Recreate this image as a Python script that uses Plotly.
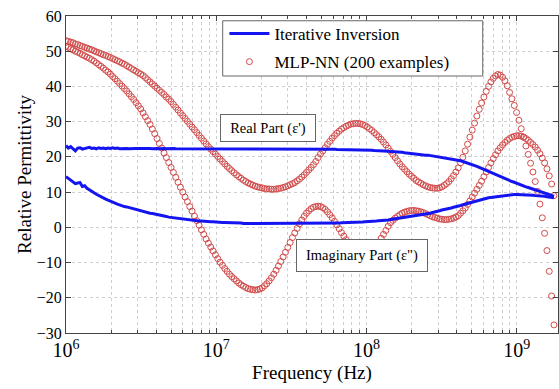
import numpy as np
import plotly.graph_objects as go

# Frequency sampling grid (log-uniform, 1 MHz .. 1.77 GHz)
freq = np.logspace(6, np.log10(1.77e9), 210)

mlp_real = [
    53.0, 52.8, 52.6, 52.4, 52.1, 51.9, 51.6, 51.4, 51.1, 50.9,
    50.6, 50.4, 50.1, 49.8, 49.6, 49.3, 49.0, 48.8, 48.5, 48.2,
    47.9, 47.6, 47.3, 47.0, 46.6, 46.3, 45.9, 45.5, 45.1, 44.7,
    44.3, 43.9, 43.5, 43.1, 42.5, 41.9, 41.3, 40.7, 40.1, 39.5,
    38.9, 38.3, 37.7, 37.0, 36.4, 35.7, 34.9, 34.1, 33.3, 32.5,
    31.7, 30.9, 30.1, 29.3, 28.5, 27.7, 26.9, 26.1, 25.3, 24.5,
    23.7, 22.9, 22.2, 21.5, 20.8, 20.1, 19.4, 18.7, 18.0, 17.3,
    16.7, 16.1, 15.5, 14.9, 14.4, 13.9, 13.4, 13.0, 12.6, 12.3,
    12.0, 11.7, 11.5, 11.3, 11.2, 11.0, 10.9, 10.9, 10.8, 10.8,
    10.9, 11.0, 11.1, 11.3, 11.5, 11.8, 12.1, 12.4, 12.7, 13.2,
    13.7, 14.3, 14.9, 15.6, 16.3, 17.0, 17.8, 18.7, 19.8, 20.8,
    21.7, 22.6, 23.6, 24.4, 25.3, 26.0, 26.7, 27.3, 27.9, 28.3,
    28.7, 29.0, 29.3, 29.4, 29.5, 29.5, 29.4, 29.2, 28.9, 28.5,
    28.0, 27.5, 26.9, 26.3, 25.7, 25.0, 24.2, 23.4, 22.5, 21.6,
    20.7, 19.8, 18.9, 18.0, 17.2, 16.5, 15.8, 15.1, 14.5, 13.9,
    13.3, 12.9, 12.5, 12.1, 11.8, 11.5, 11.3, 11.2, 11.1, 11.1,
    11.2, 11.5, 11.9, 12.4, 13.0, 13.8, 14.7, 15.7, 16.9, 18.3,
    19.9, 21.7, 23.6, 25.6, 27.6, 29.6, 31.6, 33.5, 35.3, 37.0,
    38.6, 40.0, 41.3, 42.3, 43.0, 43.4, 43.2, 42.6, 41.6, 40.2,
    38.3, 36.5, 34.6, 32.6, 30.4, 28.0, 25.6, 23.1, 20.7, 18.2,
    15.7, 13.0, 10.2, 6.6, 2.7, -1.7, -6.6, -12.5, -19.5, -27.7,
]

mlp_imag = [
    51.4, 51.1, 50.7, 50.4, 50.0, 49.7, 49.4, 49.0, 48.7, 48.3,
    48.0, 47.6, 47.2, 46.7, 46.2, 45.7, 45.2, 44.6, 44.1, 43.5,
    42.8, 42.2, 41.5, 40.8, 40.1, 39.4, 38.7, 37.9, 37.1, 36.3,
    35.4, 34.5, 33.6, 32.5, 31.4, 30.3, 29.2, 27.9, 26.6, 25.2,
    23.8, 22.5, 21.1, 19.8, 18.4, 17.0, 15.6, 14.2, 12.8, 11.4,
    10.0, 8.6, 7.3, 5.9, 4.6, 3.2, 1.9, 0.6, -0.7, -2.0,
    -3.3, -4.5, -5.6, -6.7, -7.8, -8.9, -9.9, -10.8, -11.7, -12.5,
    -13.3, -14.0, -14.6, -15.2, -15.8, -16.3, -16.7, -17.1, -17.4, -17.6,
    -17.7, -17.8, -17.7, -17.5, -17.2, -16.6, -16.0, -15.2, -14.3, -13.3,
    -12.2, -11.0, -9.7, -8.4, -7.1, -5.7, -4.3, -2.9, -1.6, -0.3,
    1.0, 2.1, 3.1, 4.0, 4.7, 5.3, 5.7, 5.9, 6.0, 5.9,
    5.6, 5.1, 4.4, 3.6, 2.7, 1.7, 0.7, -0.4, -1.5, -2.5,
    -3.5, -4.4, -5.3, -6.0, -6.6, -7.1, -7.4, -7.6, -7.6, -7.4,
    -7.0, -6.6, -5.9, -5.2, -4.2, -3.1, -2.0, -0.9, 0.3, 1.3,
    2.0, 2.6, 3.1, 3.6, 4.0, 4.3, 4.5, 4.7, 4.8, 4.8,
    4.7, 4.6, 4.4, 4.2, 3.9, 3.6, 3.3, 3.0, 2.8, 2.6,
    2.4, 2.3, 2.2, 2.2, 2.3, 2.4, 2.6, 2.9, 3.3, 4.0,
    4.7, 5.5, 6.5, 7.5, 8.6, 9.7, 10.8, 11.9, 13.1, 14.4,
    15.7, 17.0, 18.3, 19.5, 20.6, 21.7, 22.6, 23.4, 24.1, 24.7,
    25.2, 25.6, 25.8, 26.0, 26.0, 25.9, 25.6, 25.2, 24.7, 24.1,
    23.5, 22.8, 21.9, 20.9, 19.7, 18.3, 16.6, 14.6, 12.3, 9.0,
]

iter_real = [
    23.2, 22.5, 22.9, 22.2, 21.7, 22.5, 22.6, 22.2, 22.4, 22.6,
    22.7, 22.4, 22.5, 22.3, 22.6, 22.4, 22.5, 22.3, 22.5, 22.4,
    22.6, 22.4, 22.5, 22.3, 22.4, 22.5, 22.4, 22.3, 22.4, 22.5,
    22.4, 22.4, 22.3, 22.4, 22.4, 22.5, 22.4, 22.3, 22.4, 22.4,
    22.3, 22.4, 22.4, 22.3, 22.4, 22.3, 22.4, 22.3, 22.3, 22.4,
    22.3, 22.3, 22.4, 22.3, 22.3, 22.3, 22.4, 22.3, 22.3, 22.3,
    22.3, 22.3, 22.3, 22.3, 22.3, 22.3, 22.3, 22.3, 22.3, 22.3,
    22.3, 22.3, 22.3, 22.3, 22.3, 22.3, 22.3, 22.3, 22.3, 22.3,
    22.3, 22.3, 22.3, 22.3, 22.3, 22.3, 22.3, 22.3, 22.3, 22.3,
    22.3, 22.3, 22.3, 22.3, 22.3, 22.3, 22.3, 22.3, 22.3, 22.3,
    22.3, 22.3, 22.3, 22.3, 22.3, 22.3, 22.3, 22.3, 22.2, 22.2,
    22.2, 22.2, 22.2, 22.2, 22.2, 22.2, 22.1, 22.1, 22.1, 22.1,
    22.1, 22.1, 22.1, 22.1, 22.0, 22.0, 22.0, 22.0, 21.9, 21.9,
    21.9, 21.9, 21.8, 21.8, 21.8, 21.7, 21.7, 21.6, 21.6, 21.5,
    21.5, 21.4, 21.4, 21.3, 21.3, 21.2, 21.1, 21.1, 21.0, 20.9,
    20.8, 20.8, 20.7, 20.6, 20.5, 20.5, 20.4, 20.3, 20.2, 20.1,
    20.0, 19.9, 19.8, 19.7, 19.6, 19.5, 19.3, 19.2, 19.0, 18.9,
    18.7, 18.5, 18.3, 18.0, 17.8, 17.5, 17.3, 17.0, 16.7, 16.5,
    16.2, 15.9, 15.6, 15.3, 15.0, 14.8, 14.5, 14.2, 13.9, 13.6,
    13.3, 13.0, 12.8, 12.5, 12.2, 12.0, 11.7, 11.5, 11.3, 11.1,
    10.9, 10.7, 10.5, 10.3, 10.1, 9.9, 9.6, 9.4, 9.1, 8.8,
]

iter_imag = [
    14.4, 13.9, 13.4, 12.9, 12.4, 12.6, 12.7, 11.6, 11.8, 11.1,
    10.6, 10.2, 9.8, 9.4, 9.0, 8.6, 8.2, 8.0, 7.7, 7.5,
    7.2, 6.9, 6.6, 6.3, 6.1, 5.9, 5.8, 5.6, 5.4, 5.2,
    5.0, 4.8, 4.6, 4.5, 4.3, 4.2, 4.0, 3.9, 3.8, 3.6,
    3.5, 3.4, 3.2, 3.1, 2.9, 2.8, 2.7, 2.6, 2.5, 2.4,
    2.3, 2.2, 2.1, 2.1, 2.0, 1.9, 1.9, 1.8, 1.8, 1.7,
    1.7, 1.6, 1.6, 1.6, 1.5, 1.5, 1.5, 1.4, 1.4, 1.4,
    1.3, 1.3, 1.3, 1.2, 1.2, 1.2, 1.1, 1.1, 1.1, 1.1,
    1.0, 1.0, 1.0, 1.0, 1.0, 1.0, 1.0, 1.0, 1.0, 1.0,
    1.0, 1.0, 1.0, 1.0, 1.0, 1.0, 1.0, 1.0, 1.0, 1.0,
    1.0, 1.0, 1.0, 1.0, 1.0, 1.0, 1.1, 1.1, 1.1, 1.1,
    1.1, 1.1, 1.1, 1.2, 1.2, 1.2, 1.2, 1.2, 1.3, 1.3,
    1.3, 1.3, 1.4, 1.4, 1.4, 1.5, 1.5, 1.5, 1.6, 1.6,
    1.7, 1.7, 1.8, 1.8, 1.9, 1.9, 2.0, 2.1, 2.1, 2.2,
    2.3, 2.4, 2.5, 2.5, 2.6, 2.7, 2.8, 2.9, 3.0, 3.1,
    3.2, 3.4, 3.5, 3.6, 3.7, 3.9, 4.0, 4.2, 4.3, 4.5,
    4.7, 4.9, 5.0, 5.2, 5.3, 5.5, 5.7, 5.8, 6.0, 6.2,
    6.4, 6.6, 6.8, 7.0, 7.2, 7.4, 7.6, 7.8, 8.0, 8.1,
    8.3, 8.4, 8.5, 8.6, 8.7, 8.8, 8.9, 9.0, 9.1, 9.1,
    9.2, 9.2, 9.3, 9.3, 9.3, 9.3, 9.3, 9.2, 9.2, 9.1,
    9.1, 9.0, 9.0, 8.9, 8.9, 8.8, 8.7, 8.6, 8.5, 8.4,
]

for arr in (mlp_real, mlp_imag, iter_real, iter_imag):
    assert len(arr) == len(freq), len(arr)

FONT = "Liberation Serif"
RED = "#d24a4a"
BLUE = "#1414f0"

fig = go.Figure()
for i, ys in enumerate([mlp_real, mlp_imag]):
    fig.add_trace(go.Scatter(
        x=freq, y=ys, mode="markers", name="MLP-NN (200 examples)",
        legendgroup="mlp", showlegend=(i == 0), legendrank=2,
        marker=dict(symbol="circle-open", size=6, color=RED, line=dict(width=1, color=RED)),
    ))
for i, ys in enumerate([iter_real, iter_imag]):
    fig.add_trace(go.Scatter(
        x=freq, y=ys, mode="lines", name="Iterative Inversion",
        legendgroup="iter", showlegend=(i == 0), legendrank=1,
        line=dict(color=BLUE, width=3),
    ))

grid = dict(gridcolor="#cfcfcf", griddash="dot", gridwidth=1)

fig.update_xaxes(
    type="log", range=[6, 9.275], dtick=1, exponentformat="power", showexponent="all",
    showline=True, linecolor="#444", linewidth=1, mirror="ticks",
    ticks="inside", ticklen=5, tickcolor="#444",
    showgrid=True, **grid,
    minor=dict(ticks="inside", ticklen=3, tickcolor="#444", showgrid=True,
               gridcolor="#cfcfcf", griddash="dot"),
    tickfont=dict(family=FONT, size=16, color="black"),
    title=dict(text="Frequency (Hz)", font=dict(family=FONT, size=19, color="black"), standoff=5),
    zeroline=False,
)
fig.update_yaxes(
    range=[-30, 60], dtick=10,
    showline=True, linecolor="#444", linewidth=1, mirror="ticks",
    ticks="inside", ticklen=5, tickcolor="#444",
    showgrid=True, **grid,
    tickfont=dict(family=FONT, size=16, color="black"),
    title=dict(text="Relative Permittivity", font=dict(family=FONT, size=19, color="black"), standoff=0),
    zeroline=False,
)

fig.add_annotation(
    x=0.4106, y=0.6467, xref="paper", yref="paper", text="Real Part (ε')",
    showarrow=False, font=dict(family=FONT, size=14.5, color="black"),
    bgcolor="white", bordercolor="#666", borderwidth=1, width=92, height=24, borderpad=1,
)
fig.add_annotation(
    x=0.601, y=0.191, xref="paper", yref="paper", text="Imaginary Part (ε\")",
    showarrow=False, font=dict(family=FONT, size=14.5, color="black"),
    bgcolor="white", bordercolor="#666", borderwidth=1, width=128, height=29, borderpad=1,
)

# legend frame (matches the reference's wider box)
fig.add_shape(
    type="rect", xref="paper", yref="paper",
    x0=0.3185, x1=0.847, y0=0.8107, y1=0.985,
    line=dict(color="#666", width=1), fillcolor="white", layer="above",
)

fig.update_layout(
    width=559, height=389,
    margin=dict(l=66, r=1, t=16, b=56),
    paper_bgcolor="white", plot_bgcolor="white",
    font=dict(family=FONT, color="black"),
    legend=dict(
        x=0.322, y=1.0, xanchor="left", yanchor="top",
        bgcolor="rgba(0,0,0,0)", borderwidth=0,
        itemwidth=40, tracegroupgap=3,
        font=dict(family=FONT, size=17, color="black"),
    ),
)

fig.write_html("out.html")
